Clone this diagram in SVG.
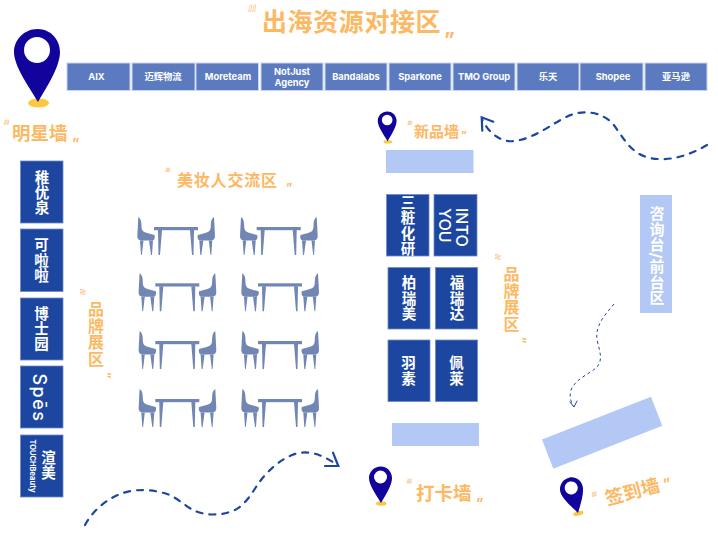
<svg xmlns="http://www.w3.org/2000/svg" xmlns:xlink="http://www.w3.org/1999/xlink" width="718" height="539" viewBox="0 0 718 539">
<style>
text{font-family:"Inter","Noto Sans CJK SC",sans-serif}
.top rect{fill:#5b7abf;stroke:#c9d5ec;stroke-width:1}
.top text{fill:#fff;font-size:9.300px;font-weight:700;text-anchor:middle}
.blk{fill:#1c46a0;stroke:#6f8bc6;stroke-width:.8}
.bt{fill:#fff;font-size:14.500px;font-weight:700;text-anchor:middle;writing-mode:vertical-rl;letter-spacing:.8px}
.lat{fill:#fff;font-size:16px;font-weight:500}
.lbl{fill:#fdb863;font-weight:700}
.v{writing-mode:vertical-rl}
.q1{fill:none;stroke:#fdbf80;stroke-width:.6;font-weight:400}
.q2{fill:#fdb863;font-weight:700}
.lt{fill:#b3c8f5}
.dash{fill:none;stroke:#1c46a0;stroke-width:2.200;stroke-linecap:round;stroke-dasharray:6 7}
.head{fill:none;stroke:#1c46a0;stroke-width:2.200;stroke-linecap:round}
</style>
<defs>
<g id="pin">
<ellipse cx="38.500" cy="103" rx="10.500" ry="4.500" fill="#fcc83f"/>
<path fill-rule="evenodd" fill="#11039b" d="M37.500 29C24 29 14 40 14 52C14 66 28 85 38 102C48 85 60 66 60 52C60 40 51 29 37.500 29ZM37 37A13 13 0 1 1 37 63A13 13 0 1 1 37 37Z"/>
</g>
<g id="set" fill="#7186b3">
<path d="M138.300 217C140.500 218 141.500 221 141.500 226C141.500 230 143 232 147 233L154.500 235Q155.500 238.500 153 240.500L141 240.500Q137.300 240 137.300 236Z"/>
<path d="M140 240.500H143.500L141.800 255H141ZM149 240.500H153L152 255H151Z"/>
<rect x="154" y="227" width="44" height="3.200"/>
<path d="M158 230H162L160 255H158.500ZM190 230H194L193.500 255H192Z"/>
<path d="M214 217C211.800 218 210.800 221 210.800 226C210.800 230 209.300 232 205.300 233L197.800 235Q196.800 238.500 199.300 240.500L211.300 240.500Q215 240 215 236Z"/>
<path d="M212.300 240.500H208.800L210.500 255H211.300ZM203.300 240.500H199.300L200.300 255H201.300Z"/>
</g>
</defs>

<g id="title" class="lbl">
<text x="247" y="21" font-size="22" class="q1">“</text>
<text x="262" y="31" font-size="25" letter-spacing=".6">出海资源对接区</text>
<text x="444" y="47" font-size="20" class="q2">”</text>
</g>

<g id="pin-star"><use xlink:href="#pin"/></g>
<g id="label-star" class="lbl">
<text x="3" y="131" font-size="15" class="q1">“</text>
<text x="12" y="140" font-size="18.500">明星墙</text>
<text x="72" y="149" font-size="14" class="q2">”</text>
</g>

<g id="resources" class="top">
<g id="r1"><rect x="67" y="63" width="63" height="27.500"/><text x="96.500" y="80">AIX</text></g>
<g id="r2"><rect x="132" y="63" width="63" height="27.500"/><text x="163" y="80">迈辉物流</text></g>
<g id="r3"><rect x="196" y="63" width="62.500" height="27.500"/><text x="228" y="80">Moreteam</text></g>
<g id="r4"><rect x="261" y="63" width="62" height="27.500"/><text x="292" y="74.500">NotJust</text><text x="292" y="86">Agency</text></g>
<g id="r5"><rect x="325" y="63" width="62" height="27.500"/><text x="356" y="80">Bandalabs</text></g>
<g id="r6"><rect x="389" y="63" width="62" height="27.500"/><text x="420" y="80">Sparkone</text></g>
<g id="r7"><rect x="453" y="63" width="62" height="27.500"/><text x="484" y="80">TMO Group</text></g>
<g id="r8"><rect x="517" y="63" width="62" height="27.500"/><text x="548" y="80">乐天</text></g>
<g id="r9"><rect x="580" y="63" width="63" height="27.500"/><text x="613" y="80">Shopee</text></g>
<g id="r10"><rect x="645" y="63" width="62" height="27.500"/><text x="676" y="80">亚马逊</text></g>
</g>

<g id="brand-left">
<g id="b1"><rect class="blk" x="20.500" y="161" width="42.500" height="62"/><text class="bt" x="41" y="193">稚优泉</text></g>
<g id="b2"><rect class="blk" x="20.500" y="229" width="42.500" height="62.500"/><text class="bt" x="40.500" y="260.500">可啦啦</text></g>
<g id="b3"><rect class="blk" x="20.500" y="298" width="42.500" height="62"/><text class="bt" x="40.500" y="329">博士园</text></g>
<g id="b4"><rect class="blk" x="20.500" y="366" width="42.500" height="62"/><text fill="#fff" font-size="18" font-weight="500" letter-spacing="1.500" text-anchor="middle" transform="translate(33 398) rotate(90)">Spēs</text></g>
<g id="b5"><rect class="blk" x="20.500" y="435" width="42.500" height="62"/><text class="bt" x="47.500" y="465.500">渲美</text><text fill="#fff" font-size="7.500" font-weight="700" text-anchor="middle" transform="translate(30 466) rotate(90)">TOUCHBeauty</text></g>
</g>

<g id="label-brand-left" class="lbl">
<text font-size="16" class="q1" transform="translate(73 288) rotate(90)">“</text>
<text x="95" y="301" font-size="16" class="v" letter-spacing=".7">品牌展区</text>
<text font-size="12" class="q2" transform="translate(101.500 372) rotate(90)">”</text>
</g>

<g id="label-meet" class="lbl">
<text x="165" y="177" font-size="12" class="q1">“</text>
<text x="177" y="186" font-size="16" letter-spacing=".8">美妆人交流区</text>
<text x="286" y="192" font-size="12" class="q2">”</text>
</g>

<g id="tables">
<use xlink:href="#set"/>
<use xlink:href="#set" x="102.700"/>
<use xlink:href="#set" x="1.300" y="56.300"/>
<use xlink:href="#set" x="104" y="56.300"/>
<use xlink:href="#set" x="1.300" y="114"/>
<use xlink:href="#set" x="104" y="114"/>
<use xlink:href="#set" x="1.300" y="172"/>
<use xlink:href="#set" x="104" y="172"/>
</g>

<g id="pin-new"><use xlink:href="#pin" transform="translate(372 99.500) scale(.41)"/></g>
<g id="label-new" class="lbl">
<text x="407" y="130" font-size="12" class="q1">“</text>
<text x="414" y="137" font-size="15">新品墙</text>
<text x="461" y="139" font-size="11" class="q2">”</text>
</g>
<rect id="wall-new" class="lt" x="386" y="150" width="87.500" height="23"/>

<g id="brand-center">
<g id="c1"><rect class="blk" x="386.500" y="194.500" width="42.500" height="61.500"/><text class="bt" x="407" y="226">三粧化研</text></g>
<g id="c2"><rect class="blk" x="434" y="194.500" width="43" height="61.500"/><text class="lat" transform="translate(456 208) rotate(90)">INTO</text><text class="lat" transform="translate(438.500 208) rotate(90)">YOU</text></g>
<g id="c3"><rect class="blk" x="388" y="267.500" width="42" height="61.500"/><text class="bt" x="408" y="298.500">柏瑞美</text></g>
<g id="c4"><rect class="blk" x="435.500" y="267.500" width="42" height="61.500"/><text class="bt" x="456" y="298.500">福瑞达</text></g>
<g id="c5"><rect class="blk" x="388" y="340" width="42" height="61.500"/><text class="bt" x="407.500" y="371">羽素</text></g>
<g id="c6"><rect class="blk" x="435.500" y="340" width="42" height="61.500"/><text class="bt" x="455.500" y="371">佩莱</text></g>
</g>

<g id="label-brand-right" class="lbl">
<text font-size="16" class="q1" transform="translate(488 253) rotate(90)">“</text>
<text x="510.500" y="266" font-size="16" class="v" letter-spacing=".7">品牌展区</text>
<text font-size="12" class="q2" transform="translate(516.500 337) rotate(90)">”</text>
</g>

<g id="reception"><rect class="lt" x="640" y="195" width="32" height="118"/><text fill="#fff" font-size="15" font-weight="700" class="v" x="656" y="206" letter-spacing=".5">咨询台/前台区</text></g>

<polygon id="wall-sign" class="lt" points="542,439.500 651,396.700 662.300,425.700 553.300,468.700"/>
<rect id="wall-photo" class="lt" x="392" y="423" width="87" height="23"/>

<g id="pin-photo"><use xlink:href="#pin" transform="translate(362 452) scale(.5)"/></g>
<g id="label-photo" class="lbl">
<text x="406" y="490" font-size="14" class="q1">“</text>
<text x="416" y="500" font-size="18.500">打卡墙</text>
<text x="476" y="509" font-size="14" class="q2">”</text>
</g>

<g id="pin-sign"><use xlink:href="#pin" transform="translate(578 513) rotate(-14) scale(.5) translate(-38 -102)"/></g>
<g id="label-sign" class="lbl" transform="rotate(-15 630 490)">
<text x="591" y="493" font-size="14" class="q1">“</text>
<text x="604" y="499" font-size="18.500">签到墙</text>
<text x="664" y="498" font-size="14" class="q2">”</text>
</g>

<g id="connectors">
<path class="dash" d="M707 145C690 155 670 162 650 158C630 154 622 135 613 124C603 113 585 108 566 117C550 125 535 138 515 141C500 143 488 132 482 119"/>
<path class="head" d="M493.300 121.700L481.700 117.300L482.300 130.700"/>
<path class="dash" d="M85 525C93 510 108 498 123 493C138 488 155 490 167 494C178 498 185 506 193 510C205 516 222 516 235 510C246 504 252 493 258 484C268 470 280 460 292 455C305 450 318 452 336 464"/>
<path class="head" d="M333 452.700L338.300 466L325 466"/>
<path fill="none" stroke="#1c46a0" stroke-width="1" stroke-dasharray="3 3" d="M614 304C605 315 595 325 597 340C600 352 603 360 597 367C590 374 576 378 571 390C569 396 571 402 573 406"/>
<path fill="none" stroke="#1c46a0" stroke-width="1" stroke-linecap="round" d="M570 402L574 407L577 401"/>
</g>
</svg>
